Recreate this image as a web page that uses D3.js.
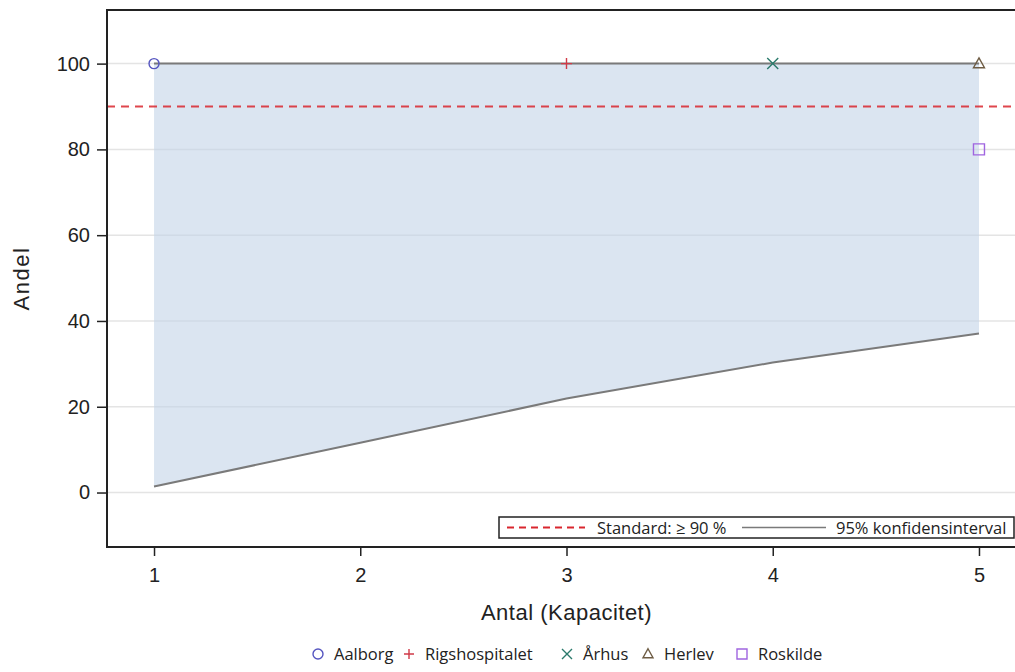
<!DOCTYPE html>
<html><head><meta charset="utf-8">
<script src="https://cdn.jsdelivr.net/npm/d3@7/dist/d3.min.js"></script>
<style>body{margin:0;background:#fff}</style>
</head><body>
<svg id="c" width="1015" height="672"></svg>
<script>
const ciX = [1, 2, 3, 4, 5];
const ciLower = [1.4, 11.6, 21.9, 30.3, 37.1];
const ciUpper = [100, 100, 100, 100, 100];
const hospitals = ["Aalborg", "Rigshospitalet", "Århus", "Herlev", "Roskilde"];
const hospX = [1, 3, 4, 5, 5];
const hospY = [100, 100, 100, 100, 80];
const hospColors = ["#5555c0", "#d03a48", "#2a7a6c", "#6e5c44", "#a065e0"];
const hospSymbols = ["circle", "plus", "x", "triangle", "square"];
const standard = 90;
const xTicks = [1, 2, 3, 4, 5];
const yTicks = [0, 20, 40, 60, 80, 100];

const svg = d3.select("#c");
const L = 107, T = 10, R = 1026, B = 547;
const x = d3.scaleLinear().domain([0.772, 5.228]).range([L, R]);
const y = d3.scaleLinear().domain([-12.7, 112.5]).range([B, T]);
const font = "'Liberation Sans', Arial, sans-serif";
const lfont = "'Open Sans', sans-serif";

svg.append("clipPath").attr("id","pc").append("rect")
  .attr("x", L).attr("y", T).attr("width", R-L).attr("height", B-T);
const plot = svg.append("g").attr("clip-path","url(#pc)");

// gridlines
plot.selectAll(".g").data(yTicks).enter().append("line")
  .attr("x1", L).attr("x2", R).attr("y1", d=>y(d)).attr("y2", d=>y(d))
  .attr("stroke", "#e4e4e4").attr("stroke-width", 1.5);

// band
const pts = ciX.map((v,i)=>({x:v, lo:ciLower[i], hi:ciUpper[i]}));
plot.append("path").datum(pts)
  .attr("d", d3.area().x(d=>x(d.x)).y0(d=>y(d.lo)).y1(d=>y(d.hi)))
  .attr("fill", "#c3d3e8").attr("fill-opacity", 0.6);

// reference line
plot.append("line").attr("x1", L).attr("x2", R).attr("y1", y(standard)).attr("y2", y(standard))
  .attr("stroke", "#d9262e").attr("stroke-width", 2).attr("stroke-dasharray", "8,6").attr("stroke-opacity",0.85);

// CI lines
const ln = d3.line().x(d=>x(d[0])).y(d=>y(d[1]));
plot.append("path").datum(ciX.map((v,i)=>[v, ciLower[i]])).attr("d", ln)
  .attr("fill","none").attr("stroke","#7a7a7a").attr("stroke-width",2);
plot.append("path").datum(ciX.map((v,i)=>[v, ciUpper[i]])).attr("d", ln)
  .attr("fill","none").attr("stroke","#7a7a7a").attr("stroke-width",2);

function symPath(s, r){
  if (s==="circle") return d3.symbol(d3.symbolCircle, Math.PI*r*r)();
  if (s==="plus") return `M${-r},0L${r},0M0,${-r}L0,${r}`;
  if (s==="x") return `M${-r},${-r}L${r},${r}M${-r},${r}L${r},${-r}`;
  if (s==="triangle") return `M0,${-r*1.05}L${r},${r*0.75}L${-r},${r*0.75}Z`;
  if (s==="square") return `M${-r},${-r}H${r}V${r}H${-r}Z`;
}
// markers
plot.selectAll(".m").data(hospitals).enter().append("path")
  .attr("transform", (d,i)=>`translate(${x(hospX[i])},${y(hospY[i])})`)
  .attr("d", (d,i)=>symPath(hospSymbols[i], hospSymbols[i]==="circle"?5:5.5))
  .attr("fill","none").attr("stroke",(d,i)=>hospColors[i]).attr("stroke-width",1.4);

// frame
svg.append("rect").attr("x", L).attr("y", T).attr("width", R-L).attr("height", B-T)
  .attr("fill","none").attr("stroke","#222").attr("stroke-width",2);

// axes
const ya = svg.append("g").attr("transform",`translate(${L},0)`)
  .call(d3.axisLeft(y).tickValues(yTicks).tickSize(10).tickPadding(7).tickFormat(d3.format("d")));
const xa = svg.append("g").attr("transform",`translate(0,${B})`)
  .call(d3.axisBottom(x).tickValues(xTicks).tickSize(9).tickPadding(12).tickFormat(d3.format("d")));
[ya, xa].forEach(a=>{
  a.select(".domain").remove();
  a.selectAll("line").attr("stroke","#222").attr("stroke-width",1.5);
  a.selectAll("text").attr("font-family", font).attr("font-size", 20).attr("fill","#222");
});

svg.append("text").attr("x", (L+R)/2).attr("y", 620).attr("text-anchor","middle")
  .attr("font-family", font).attr("font-size", 22).attr("letter-spacing", 0.5).attr("fill","#222").text("Antal (Kapacitet)");
svg.append("text").attr("transform", `translate(29,${(T+B)/2}) rotate(-90)`).attr("text-anchor","middle")
  .attr("font-family", font).attr("font-size", 22).attr("letter-spacing", 1.5).attr("fill","#222").text("Andel");

// inner legend
const lg = svg.append("g");
lg.append("rect").attr("x", 499).attr("y", 517).attr("width", 515).attr("height", 21)
  .attr("fill","#fff").attr("stroke","#222").attr("stroke-width",1.5);
lg.append("line").attr("x1", 507).attr("x2", 585).attr("y1", 527.5).attr("y2", 527.5)
  .attr("stroke","#d9262e").attr("stroke-width",2).attr("stroke-dasharray","7,5");
lg.append("text").attr("x", 597).attr("y", 533.5).attr("font-family", lfont).attr("font-size", 16.5)
  .attr("fill","#222").text("Standard: ≥ 90 %");
lg.append("line").attr("x1", 742).attr("x2", 826).attr("y1", 527.5).attr("y2", 527.5)
  .attr("stroke","#7a7a7a").attr("stroke-width",1.5);
lg.append("text").attr("x", 836).attr("y", 533.5).attr("font-family", lfont).attr("font-size", 16.5)
  .attr("fill","#222").text("95% konfidensinterval");

// bottom legend
const bx = [318, 409, 567, 648, 742];
const bl = svg.append("g");
hospitals.forEach((h,i)=>{
  bl.append("path").attr("transform",`translate(${bx[i]},654)`)
    .attr("d", symPath(hospSymbols[i], 5)).attr("fill","none")
    .attr("stroke", hospColors[i]).attr("stroke-width",1.4);
  bl.append("text").attr("x", bx[i]+16).attr("y", 660).attr("font-family", lfont)
    .attr("font-size", 16.5).attr("fill","#222").text(h);
});
</script>
</body></html>
